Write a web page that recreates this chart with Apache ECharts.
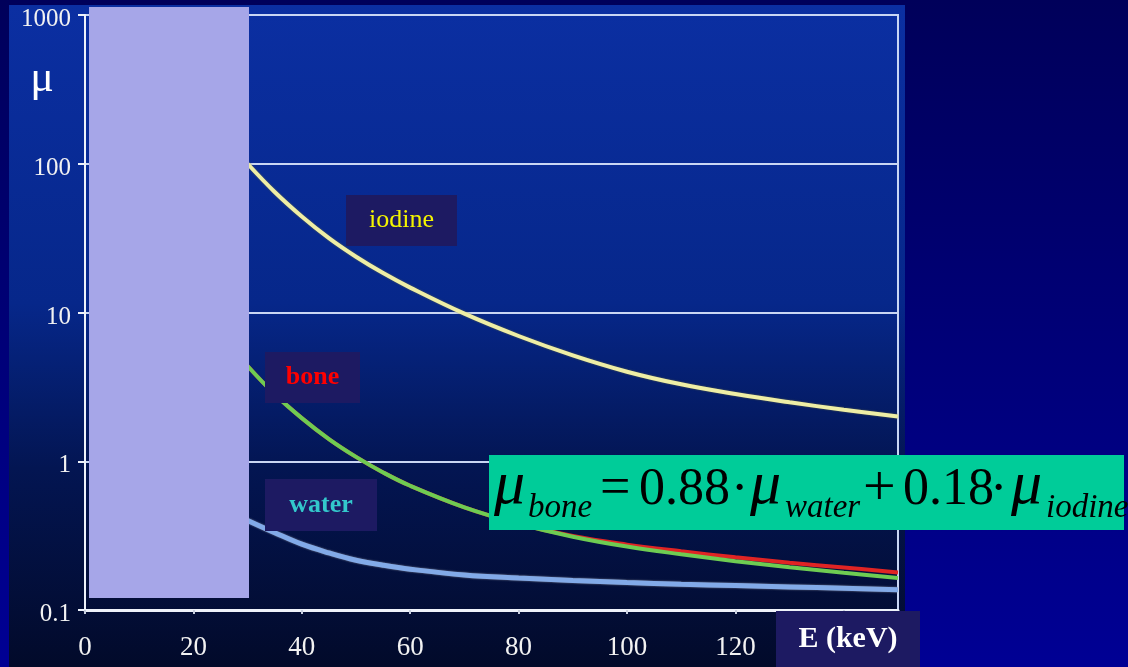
<!DOCTYPE html>
<html>
<head>
<meta charset="utf-8">
<script src="https://cdn.jsdelivr.net/npm/echarts@6/dist/echarts.min.js"></script>
<style>
  html, body { margin: 0; padding: 0; }
  body { width: 1128px; height: 667px; background: linear-gradient(#00005a, #000094); overflow: hidden; }
  #chart { width: 1128px; height: 667px; }
</style>
</head>
<body>
<div id="chart"></div>
<script>
// energy (keV) and attenuation values
const energy = [30, 35, 40, 45, 50, 55, 60, 70, 80, 90, 100, 110, 120, 130, 140, 150];
const iodine = [100, 64.6, 44.2, 31.6, 23.7, 18.4, 14.7, 9.82, 6.95, 5.15, 4.0, 3.29, 2.83, 2.49, 2.22, 2.0];
const bone = [4.37, 2.82, 1.95, 1.41, 1.07, 0.841, 0.684, 0.49, 0.38, 0.314, 0.275, 0.248, 0.226, 0.208, 0.193, 0.179];
const boneFit = [4.37, 2.82, 1.95, 1.41, 1.07, 0.841, 0.684, 0.49, 0.38, 0.311, 0.267, 0.237, 0.213, 0.194, 0.178, 0.164];
const water = [0.40, 0.331, 0.277, 0.242, 0.216, 0.2, 0.188, 0.172, 0.164, 0.158, 0.153, 0.149, 0.146, 0.143, 0.140, 0.137];
const yTicks = [0.1, 1, 10, 100, 1000];

const pairs = (ys) => energy.map((x, i) => [x, ys[i]]);

const chart = echarts.init(document.getElementById('chart'));

const serif = '"Liberation Serif", "Times New Roman", serif';
const boxColor = '#1d1a62';

function box(x, y, w, h, label, color, size, weight) {
    return {
        type: 'group',
        children: [
            { type: 'rect', z: 100, shape: { x: x, y: y, width: w, height: h }, style: { fill: boxColor } },
            {
                type: 'text', z: 101, x: x + w / 2, y: y + h / 2,
                style: { text: label, fill: color, font: weight + ' ' + size + 'px ' + serif, align: 'center', verticalAlign: 'middle' }
            }
        ]
    };
}

// formula pieces, y is the middle of the text line
function piece(x, y, t, size, italic) {
    return {
        type: 'text', x: x, y: y, z: 102,
        style: { text: t, fill: '#000', font: (italic ? 'italic ' : '') + size + 'px ' + serif, align: 'left', verticalAlign: 'middle' }
    };
}

const option = {
    backgroundColor: 'transparent',
    animation: false,
    grid: { left: 85, top: 15, right: 230, bottom: 57, show: true, borderColor: '#c9d6f4', borderWidth: 2, backgroundColor: 'transparent' },
    xAxis: {
        type: 'value', min: 0, max: 150, interval: 20,
        axisLine: { lineStyle: { color: '#eef2fa', width: 3 } },
        axisTick: { show: true, length: 4, lineStyle: { color: '#c9d0e0', width: 2 } },
        axisLabel: { color: '#f2f2f2', fontFamily: serif, fontSize: 27, margin: 24, showMaxLabel: false },
        splitLine: { show: false }
    },
    yAxis: {
        type: 'log', logBase: 10, min: 0.1, max: 1000,
        axisLine: { show: true, lineStyle: { color: '#eef2fa', width: 2 } },
        axisTick: { show: true, length: 7, lineStyle: { color: '#eef2fa', width: 2 } },
        axisLabel: {
            margin: 14,
            formatter: (v) => '{t|' + (yTicks.find((t) => Math.abs(t - v) / t < 1e-6) ?? v) + '}',
            rich: { t: { color: '#f2f2f2', fontFamily: serif, fontSize: 25, padding: [9, 0, 0, 0] } }
        },
        splitLine: { show: true, lineStyle: { color: '#c9d6f4', width: 2 } }
    },
    series: [
        { name: 'bone', type: 'line', data: pairs(bone), showSymbol: false, smooth: 0.4, lineStyle: { color: '#e02424', width: 4 }, z: 3 },
        { name: 'bone fit', type: 'line', data: pairs(boneFit), showSymbol: false, smooth: 0.4, lineStyle: { color: '#6ecc52', width: 4 }, z: 4 },
        { name: 'water', type: 'line', data: pairs(water), showSymbol: false, smooth: 0.4, lineStyle: { color: '#82aae8', width: 5, shadowColor: 'rgba(200,200,200,0.6)', shadowBlur: 2 }, z: 5 },
        { name: 'iodine', type: 'line', data: pairs(iodine), showSymbol: false, smooth: 0.4, lineStyle: { color: '#eeeea6', width: 4, shadowColor: 'rgba(120,120,60,0.7)', shadowBlur: 2 }, z: 6 }
    ],
    graphic: [
        {
            type: 'rect', z: -10, silent: true,
            shape: { x: 9, y: 5, width: 896, height: 662 },
            style: {
                fill: new echarts.graphic.LinearGradient(0, 0, 0, 1, [
                    { offset: 0, color: '#0b2fa2' },
                    { offset: 0.45, color: '#06278a' },
                    { offset: 0.7, color: '#031552' },
                    { offset: 1, color: '#020a2a' }
                ])
            }
        },
        { type: 'rect', z: 100, shape: { x: 89, y: 7, width: 160, height: 591 }, style: { fill: '#a6a6e8' } },
        { type: 'text', z: 100, x: 42, y: 79, style: { text: 'μ', fill: '#ffffff', font: '44px ' + serif, align: 'center', verticalAlign: 'middle' } },
        box(346, 195, 111, 51, 'iodine', '#f4f400', 26, 'normal'),
        box(265, 352, 95, 51, 'bone', '#ff0000', 26, 'bold'),
        box(265, 479, 112, 52, 'water', '#33c8cc', 26, 'bold'),
        box(776, 611, 144, 56, 'E (keV)', '#ffffff', 30, 'bold'),
        { type: 'rect', z: 101, shape: { x: 489, y: 455, width: 635, height: 75 }, style: { fill: '#00cc99' } },
        piece(494, 487, 'μ', 62, true),
        piece(528, 508, 'bone', 33, true),
        piece(600, 490, '=', 54, false),
        piece(639, 490, '0.88', 52, false),
        piece(731, 490, '·', 52, false),
        piece(750, 487, 'μ', 62, true),
        piece(785, 508, 'water', 33, true),
        piece(863, 490, '+', 58, false),
        piece(903, 490, '0.18', 52, false),
        piece(990, 490, '·', 52, false),
        piece(1011, 487, 'μ', 62, true),
        piece(1046, 508, 'iodine', 33, true)
    ]
};

chart.setOption(option);
</script>
</body>
</html>
